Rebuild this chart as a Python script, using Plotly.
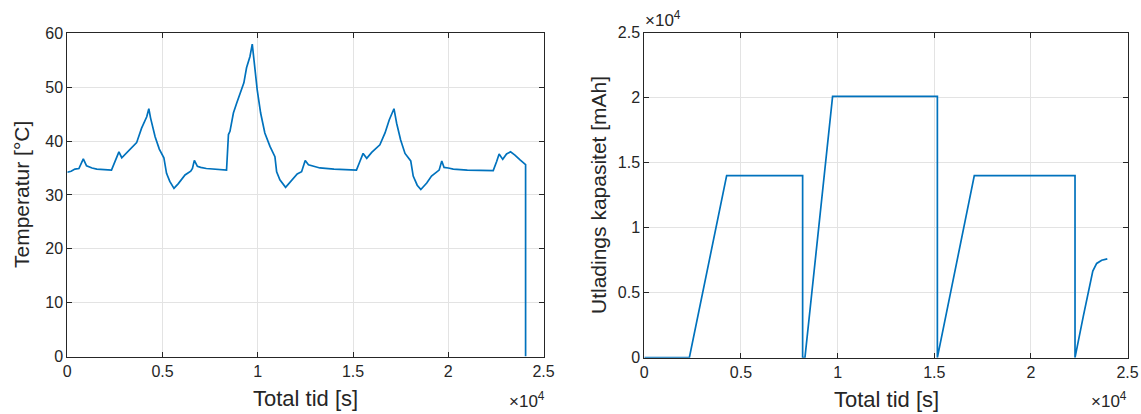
import plotly.graph_objects as go

# Temperature log (time in s, temperature in °C)
temp_time = [0, 200, 400, 610, 840, 1010, 1300, 1550, 2320, 2510, 2710, 2860, 3200,
             3640, 3900, 4070, 4170, 4280, 4370, 4610, 4830, 5070, 5210, 5380, 5600,
             5830, 6180, 6480, 6570, 6670, 6830, 7000, 7300, 8360, 8460, 8540, 8720,
             8890, 9150, 9270, 9410, 9590, 9710, 9820, 9970, 10150, 10370, 10640, 10900,
             10990, 11160, 11460, 11780, 12070, 12300, 12490, 12660, 13000, 13260, 14000,
             15180, 15360, 15530, 15720, 15980, 16410, 16680, 16900, 17150, 17290, 17500,
             17730, 18030, 18160, 18370, 18560, 18870, 19120, 19420, 19520, 19660, 19780,
             20000, 20260, 21000, 22360, 22540, 22670, 22860, 23060, 23270, 23500, 23770,
             24030, 24060, 24060]
temp_vals = [34.2, 34.4, 34.8, 34.9, 36.7, 35.4, 35.0, 34.8, 34.6, 36.2, 38.0, 36.9, 38.2,
             39.7, 42.4, 43.9, 44.5, 46.0, 44.3, 40.8, 38.5, 36.9, 34.0, 32.5, 31.2,
             32.1, 33.7, 34.4, 34.9, 36.4, 35.3, 35.1, 34.9, 34.6, 41.2, 41.8, 45.2,
             47.0, 49.5, 50.8, 53.6, 55.7, 58.0, 53.9, 49.5, 45.2, 41.5, 39.0, 37.1,
             34.3, 32.8, 31.4, 32.8, 33.9, 34.3, 36.4, 35.6, 35.2, 35.0, 34.8,
             34.6, 36.2, 37.7, 36.8, 37.9, 39.3, 41.5, 43.9, 46.0, 43.3, 40.2,
             37.7, 36.3, 33.5, 31.8, 31.0, 32.2, 33.5, 34.3, 34.6, 36.3, 35.1,
             35.0, 34.8, 34.6, 34.5, 36.2, 37.6, 36.6, 37.6, 38.0, 37.4, 36.5,
             35.8, 35.6, 0.0]

# Discharge capacity (time in s, capacity in mAh)
cap_time = [0, 2330, 4260, 8190, 8190, 8310, 9740, 15160, 15160, 17070, 22280, 22280,
            22710, 23060, 23200, 23400, 23660, 23950]
cap_vals = [0, 0, 14000, 14000, 0, 0, 20100, 20100, 0, 14000, 14000, 0,
            3200, 5770, 6660, 7250, 7500, 7600]

x_ticks = [0, 5000, 10000, 15000, 20000, 25000]
x_tick_text = ["0", "0.5", "1", "1.5", "2", "2.5"]
temp_ticks = [0, 10, 20, 30, 40, 50, 60]
cap_ticks = [0, 5000, 10000, 15000, 20000, 25000]
cap_tick_text = ["0", "0.5", "1", "1.5", "2", "2.5"]

W, H = 1141, 414
TXT = "#262626"
LINE = "#0072BD"
GRID = "#e3e3e3"
FONT = "Liberation Sans, Arial, Helvetica, sans-serif"


def px_x(p):
    return p / W


def px_y(p):
    return 1 - p / H


fig = go.Figure()
fig.add_trace(go.Scatter(x=temp_time, y=temp_vals, mode="lines",
                         line=dict(color=LINE, width=1.7),
                         xaxis="x", yaxis="y", showlegend=False))
fig.add_trace(go.Scatter(x=cap_time, y=cap_vals, mode="lines",
                         line=dict(color=LINE, width=1.7), xaxis="x2", yaxis="y2",
                         showlegend=False))

axis_common = dict(
    showgrid=True, gridcolor=GRID, gridwidth=1,
    showline=True, linecolor=TXT, linewidth=1, mirror="ticks",
    ticks="inside", ticklen=5, tickwidth=1, tickcolor=TXT,
    tickfont=dict(family=FONT, size=16, color=TXT),
    zeroline=False, fixedrange=True, automargin=False,
)

fig.update_layout(
    width=W, height=H,
    margin=dict(l=0, r=0, t=0, b=0, pad=0),
    paper_bgcolor="white", plot_bgcolor="white",
    font=dict(family=FONT, color=TXT),
    xaxis=dict(domain=[px_x(67.3), px_x(543.5)], range=[0, 25000],
               tickvals=x_ticks, ticktext=x_tick_text, anchor="y", **axis_common),
    yaxis=dict(domain=[px_y(356.5), px_y(33.3)], range=[0, 60],
               tickvals=temp_ticks, anchor="x", **axis_common),
    xaxis2=dict(domain=[px_x(644.3), px_x(1127.6)], range=[0, 25000],
                tickvals=x_ticks, ticktext=x_tick_text, anchor="y2", **axis_common),
    yaxis2=dict(domain=[px_y(357.7), px_y(32.7)], range=[0, 25000],
                tickvals=cap_ticks, ticktext=cap_tick_text, anchor="x2", **axis_common),
)

ann = []
# axis titles
ann.append(dict(text="Total tid [s]", x=px_x(305.4), y=px_y(398), xref="paper", yref="paper",
                showarrow=False, font=dict(family=FONT, size=22, color=TXT),
                xanchor="center", yanchor="middle"))
ann.append(dict(text="Total tid [s]", x=px_x(886), y=px_y(399), xref="paper", yref="paper",
                showarrow=False, font=dict(family=FONT, size=22, color=TXT),
                xanchor="center", yanchor="middle"))
ann.append(dict(text="Temperatur [°C]", x=px_x(21), y=px_y(195), xref="paper", yref="paper",
                showarrow=False, textangle=-90, font=dict(family=FONT, size=21, color=TXT),
                xanchor="center", yanchor="middle"))
ann.append(dict(text="Utladings kapasitet [mAh]", x=px_x(598), y=px_y(195), xref="paper",
                yref="paper", showarrow=False, textangle=-90,
                font=dict(family=FONT, size=21, color=TXT),
                xanchor="center", yanchor="middle"))
# exponent labels
for ex, ey in [(547, 400), (1129, 400), (683, 19)]:
    ann.append(dict(text="×10<sup>4</sup>", x=px_x(ex), y=px_y(ey), xref="paper", yref="paper",
                    showarrow=False, font=dict(family=FONT, size=17, color=TXT),
                    xanchor="right", yanchor="middle"))
fig.update_layout(annotations=ann)

fig.write_html("out.html")
